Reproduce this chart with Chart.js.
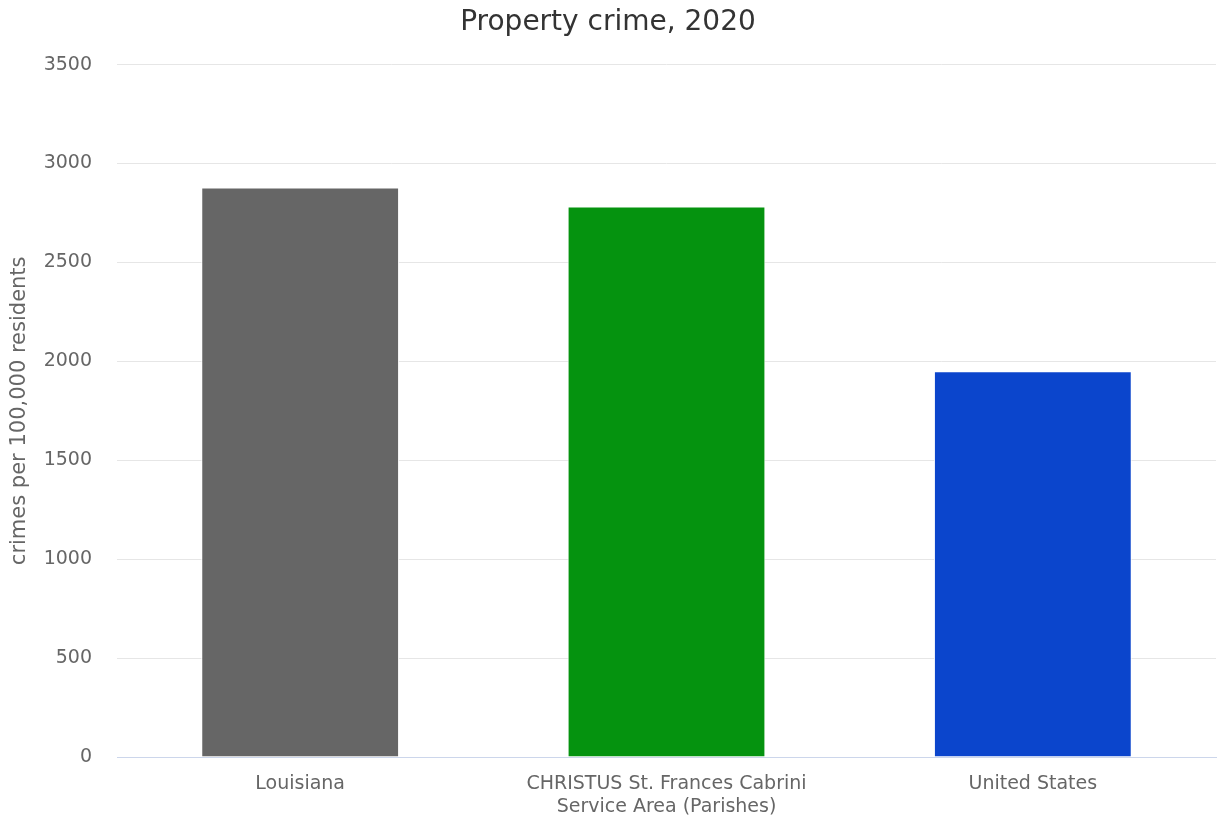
<!DOCTYPE html>
<html>
<head>
<meta charset="utf-8">
<script src="https://cdn.jsdelivr.net/npm/chart.js@4"></script>
<style>
  html, body { margin: 0; padding: 0; background: #fff; }
  #wrap { width: 1221px; height: 820px; }
</style>
</head>
<body>
<div id="wrap"><canvas id="crimeChart"></canvas></div>
<script>
// data
const categories = [
  "Louisiana",
  ["CHRISTUS St. Frances Cabrini", "Service Area (Parishes)"],
  "United States",
];
const crimeRates = [2879, 2783, 1950];
const barColors = ["#666666", "#05930f", "#0b45cc"];
const yTicks = [0, 500, 1000, 1500, 2000, 2500, 3000, 3500];

const font = "'DejaVu Sans', sans-serif";

const ctx = document.getElementById("crimeChart").getContext("2d");
const crimeChart = new Chart(ctx, {
  type: "bar",
  data: {
    labels: categories,
    datasets: [
      {
        label: "Property crime",
        data: crimeRates,
        backgroundColor: barColors,
        borderColor: "#ffffff",
        borderWidth: 1,
        categoryPercentage: 1,
        barPercentage: 0.54,
      },
    ],
  },
  options: {
    responsive: true,
    maintainAspectRatio: false,
    animation: false,
    layout: { padding: { left: 0, right: 5, top: 0, bottom: 0 } },
    plugins: {
      legend: { display: false },
      tooltip: { enabled: false },
      title: {
        display: true,
        text: "Property crime, 2020",
        color: "#333333",
        font: { family: font, size: 28, weight: "normal" },
        padding: { top: 6, bottom: 25 },
      },
    },
    scales: {
      x: {
        grid: { display: false, drawTicks: false },
        border: { display: true, color: "#ccd6eb", width: 1 },
        ticks: {
          color: "#666666",
          font: { family: font, size: 19 },
          padding: 16,
          maxRotation: 0,
          autoSkip: false,
        },
        afterFit: (scale) => {
          scale.height = 63;
        },
      },
      y: {
        min: 0,
        max: 3500,
        afterBuildTicks: (scale) => {
          scale.ticks = yTicks.map((v) => ({ value: v }));
        },
        grid: { color: "#e6e6e6", lineWidth: 1, drawTicks: false },
        border: { display: false },
        ticks: {
          color: "#666666",
          font: { family: font, size: 19 },
          padding: 25,
          callback: (value) => String(value),
        },
        title: {
          display: true,
          text: "crimes per 100,000 residents",
          color: "#666666",
          font: { family: font, size: 21 },
          padding: { top: 7, bottom: 0 },
        },
        afterFit: (scale) => {
          scale.width = 117;
        },
      },
    },
  },
});
</script>
</body>
</html>
